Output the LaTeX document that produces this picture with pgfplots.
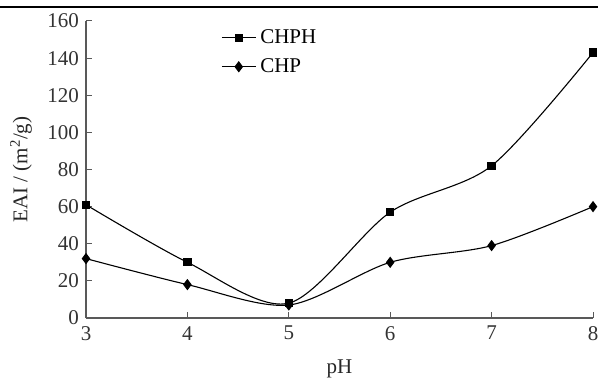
\documentclass[border=0pt]{standalone}
\usepackage{pgfplots}
\pgfplotsset{compat=1.18}
\usepackage{fontspec}
\setmainfont{Liberation Serif}
\begin{document}
\fontsize{21bp}{24bp}\selectfont
\begin{tikzpicture}[x=1bp,y=1bp]
\useasboundingbox (0,0) rectangle (598,380);
\draw[line width=2.2bp] (0,373) -- (598,373);
\begin{axis}[
  at={(86bp,62bp)}, anchor=origin,
  scale only axis, width=507bp, height=297bp,
  xmin=3, xmax=8, ymin=0, ymax=160,
  axis x line*=bottom, axis y line*=left,
  axis line style={black!65, line width=1.2bp},
  xtick={3,4,5,6,7,8}, ytick={0,20,...,160},
  tick style={black!65, line width=1bp},
  tick align=inside, major tick length=6bp,
  /pgf/number format/assume math mode=true,
  ticklabel style={font=\fontsize{21bp}{24bp}\selectfont, text=black!80},
  xticklabel style={yshift=-1bp},
  label style={font=\fontsize{21bp}{24bp}\selectfont, text=black!85},
  xlabel={pH},
  xlabel style={at={(axis description cs:0.5,-0.172)}, anchor=center},
  ylabel={EAI / (m\textsuperscript{2}/g)},
  ylabel style={at={(axis description cs:-0.128,0.5)}, anchor=center},
  legend style={draw=none, fill=none, at={(135bp,289bp)}, anchor=north west,
    font=\fontsize{21bp}{24bp}\selectfont, row sep=12bp, inner sep=0pt,
    legend cell align=left, nodes={inner xsep=4bp, inner ysep=0bp}},
  legend image code/.code={\draw[mark repeat=2,mark phase=2,#1] plot coordinates {(0bp,0bp) (17bp,0bp) (34bp,0bp)};},
  clip=false,
]
\addplot[black, line width=1.1bp, smooth, tension=0.5, mark=square*, mark size=3.6bp, mark options={solid}]
  coordinates {(3,61) (4,30) (5,8) (6,57) (7,82) (8,143)};
\addlegendentry{CHPH}
\addplot[black, line width=1.1bp, smooth, tension=0.5, mark=diamond*, mark size=4.8bp, mark options={solid}]
  coordinates {(3,32) (4,18) (5,7) (6,30) (7,39) (8,60)};
\addlegendentry{CHP}
\end{axis}
\end{tikzpicture}
\end{document}
